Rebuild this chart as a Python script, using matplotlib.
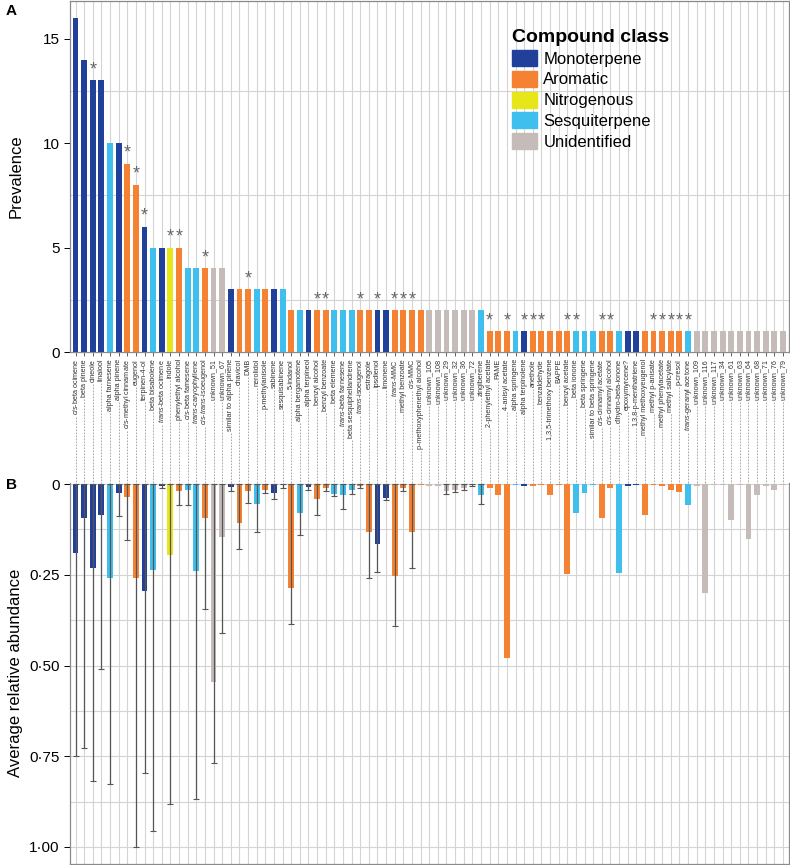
import matplotlib.pyplot as plt
from matplotlib.patches import Patch
from matplotlib.lines import Line2D
import numpy as np

plt.rcParams["font.family"] = ["Liberation Sans", "DejaVu Sans"]
plt.rcParams["mathtext.fontset"] = "custom"
plt.rcParams["mathtext.it"] = "Liberation Sans:italic"
plt.rcParams["mathtext.rm"] = "Liberation Sans"

compounds = [
    "cis-beta ocimene", "beta pinene", "cineole", "linalool", "alpha farnesene",
    "alpha pinene", "cis-methyl cinnamate", "eugenol", "terpinen-4-ol", "beta bisabolene",
    "trans-beta ocimene", "indole", "phenylethyl alcohol", "cis-beta farnesene", "trans-caryophyllene",
    "cis-trans-isoeugenol", "unknown_51", "unknown_67", "similar to alpha pinene", "chavicol",
    "DMB", "nerolidol", "p-methylanisole", "sabinene", "sesquisabinene",
    "5-indanol", "alpha bergamotene", "alpha terpineol", "benzyl alcohol", "benzyl benzoate",
    "beta elemene", "trans-beta farnesene", "beta sesquiphellandrene", "trans-isoeugenol", "estragole",
    "ipsdienol", "limonene", "trans-MMC", "methyl benzoate", "cis-MMC",
    "p-methoxyphenethyl alcohol", "unknown_105", "unknown_108", "unknown_29", "unknown_32",
    "unknown_36", "unknown_72", "zingiberene", "2-phenylethyl acetate", "PAME",
    "4-anisyl acetate", "alpha springene", "alpha terpinolene", "anethole", "benzaldehyde",
    "1,3,5-trimethoxy benzene", "BAPPE", "benzyl acetate", "beta ionone", "beta springene",
    "similar to beta springene", "cis-cinnamyl acetate", "cis-cinnamyl alcohol", "dihydro-beta-ionone", "epoxymyrcene?",
    "1,3,8-p-menthatriene", "methyl methoxyeugenol", "methyl p-anisate", "methyl phenylacetate", "methyl salicylate",
    "p-cresol", "trans-geranyl acetone", "unknown_109", "unknown_116", "unknown_117",
    "unknown_34", "unknown_61", "unknown_63", "unknown_64", "unknown_68",
    "unknown_71", "unknown_76", "unknown_79",
]

# M monoterpene, A aromatic, N nitrogenous, S sesquiterpene, U unidentified
compound_class = (
    "MMMMSMAAMS"
    "MNASSAUUMA"
    "ASAMSASMAA"
    "SSSAAMMAAA"
    "AUUUUUUSAA"
    "ASMAAAAASS"
    "SAASMMAAAA"
    "ASUUUUUUUU"
    "UUU"
)

prevalence = [16, 14, 13, 13, 10, 10, 9, 8, 6, 5, 5, 5, 5, 4, 4, 4, 4, 4,
              3, 3, 3, 3, 3, 3, 3] + [2] * 23 + [1] * 35

# compounds marked with an asterisk (1-based position)
starred = [3, 7, 8, 9, 12, 13, 16, 21, 29, 30, 34, 36, 38, 39, 40, 49, 51, 53,
           54, 55, 58, 59, 62, 63, 68, 69, 70, 71, 72]

abundance = [
    0.19, 0.094, 0.23, 0.085, 0.258, 0.025, 0.035, 0.258, 0.295, 0.237,
    0.005, 0.196, 0.02, 0.015, 0.24, 0.094, 0.545, 0.145, 0.008, 0.107,
    0.02, 0.055, 0.015, 0.025, 0.003, 0.287, 0.079, 0.008, 0.041, 0.012,
    0.028, 0.031, 0.015, 0.005, 0.131, 0.165, 0.038, 0.253, 0.01, 0.133,
    0.002, 0.004, 0.004, 0.019, 0.015, 0.01, 0.003, 0.029, 0.011, 0.031,
    0.48, 0.002, 0.004, 0.004, 0.003, 0.031, 0.003, 0.248, 0.08, 0.025,
    0.002, 0.094, 0.01, 0.246, 0.004, 0.002, 0.085, 0.002, 0.006, 0.015,
    0.022, 0.058, 0.006, 0.3, 0.002, 0.002, 0.099, 0.002, 0.151, 0.029,
    0.005, 0.015, 0.002,
]

# standard deviation (upper whisker = mean + sd), 0 where no bar shown
abundance_sd = [
    0.559, 0.634, 0.587, 0.425, 0.568, 0.063, 0.119, 0.741, 0.502, 0.719,
    0.007, 0.686, 0.038, 0.043, 0.627, 0.251, 0.223, 0.265, 0.012, 0.072,
    0.032, 0.076, 0.01, 0.017, 0.007, 0.099, 0.061, 0.007, 0.044, 0.008,
    0.004, 0.037, 0.013, 0.005, 0.127, 0.078, 0.007, 0.137, 0.01, 0.097,
    0, 0, 0, 0.008, 0.007, 0.005, 0.003, 0.026,
] + [0] * 35

class_colors = {
    "M": "#21409a",
    "A": "#f58232",
    "N": "#e6e619",
    "S": "#3fbfee",
    "U": "#c5bbb8",
}
class_names = {
    "M": "Monoterpene",
    "A": "Aromatic",
    "N": "Nitrogenous",
    "S": "Sesquiterpene",
    "U": "Unidentified",
}


def italic_prefix(name):
    for word in ("cis", "trans"):
        name = name.replace(word + "-", r"$\mathit{" + word + "}$-")
    return name


W, H = 790, 865
fig = plt.figure(figsize=(W / 100, H / 100), dpi=100)

left, right = 70 / W, 789 / W
ax_top = fig.add_axes([left, 1 - 352 / H, right - left, 351 / H])
ax_bot = fig.add_axes([left, 1 - 864 / H, right - left, (864 - 483) / H])

pos = np.arange(len(compounds))
colors = [class_colors[c] for c in compound_class]
grid_col = "#d4d4d4"
spine_col = "#8a8a8a"

# ---- A: prevalence
ax_top.bar(pos, prevalence, width=0.68, color=colors, zorder=3)
for i in starred:
    ax_top.text(i - 1, prevalence[i - 1] + 0.1, "*", ha="center", va="bottom",
                fontsize=13, color="#666666", zorder=4)

ax_top.set_xlim(-0.64, len(compounds) - 0.3)
ax_top.set_ylim(0, 16.8)
ax_top.set_yticks([0, 5, 10, 15])
ax_top.set_yticks(np.arange(0, 16.8, 2.5), minor=True)
ax_top.set_xticks(pos)
ax_top.set_xticklabels([italic_prefix(c) for c in compounds], rotation=90,
                       fontsize=5.2, color="#333333")
ax_top.tick_params(axis="x", length=3, width=0.6, pad=2, color="#444444")
ax_top.tick_params(axis="y", which="major", labelsize=11, length=4, width=0.7)
ax_top.tick_params(axis="y", which="minor", length=0)
ax_top.grid(True, axis="y", which="minor", color=grid_col, lw=0.8, zorder=0)
ax_top.grid(True, axis="x", color=grid_col, lw=0.8, zorder=0)

legend_handles = [Patch(color=class_colors[k], label=class_names[k]) for k in "MANSU"]
fig.legend(handles=legend_handles, title="Compound class", loc="upper left",
           bbox_to_anchor=(505 / W, 1 - 22 / H), frameon=False, fontsize=12,
           title_fontproperties={"weight": "bold", "size": 14},
           handlelength=1.5, handleheight=1.1, handletextpad=0.4,
           labelspacing=0.25, alignment="left", borderaxespad=0)

# ---- B: average relative abundance
for i in range(len(compounds)):
    ax_bot.bar(i, abundance[i], width=0.68, color=colors[i], zorder=3)
    if abundance_sd[i] > 0:
        ax_bot.errorbar(i, abundance[i], yerr=[[abundance[i]], [abundance_sd[i]]],
                        fmt="none", ecolor="#555555", elinewidth=0.9, capsize=2,
                        capthick=0.8, zorder=4)

ax_bot.set_xlim(ax_top.get_xlim())
ax_bot.set_ylim(1.047, -0.003)
ax_bot.set_xticks(pos)
ax_bot.tick_params(axis="x", length=0, labelbottom=False)
ax_bot.set_yticks([0, 0.25, 0.5, 0.75, 1.0])
ax_bot.set_yticklabels(["0", "0·25", "0·50", "0·75", "1·00"])
ax_bot.set_yticks(np.arange(0.125, 1.0, 0.25), minor=True)
ax_bot.tick_params(axis="y", which="major", labelsize=11, length=4, width=0.7)
ax_bot.tick_params(axis="y", which="minor", length=0)
ax_bot.grid(True, axis="y", which="both", color=grid_col, lw=0.8, zorder=0)
ax_bot.grid(True, axis="x", color=grid_col, lw=0.8, zorder=0)

for ax in (ax_top, ax_bot):
    for s in ax.spines.values():
        s.set_color(spine_col)
        s.set_linewidth(0.9)
ax_bot.spines["top"].set_visible(False)

fig.text(6 / W, 1 - 4 / H, "A", fontsize=11, weight="bold", va="top")
fig.text(6 / W, 1 - 478 / H, "B", fontsize=11, weight="bold", va="top")
fig.text(16 / W, 1 - 176 / H, "Prevalence", rotation=90, fontsize=12,
         ha="center", va="center")
fig.text(16 / W, 1 - 673 / H, "Average relative abundance", rotation=90,
         fontsize=12, ha="center", va="center")

# dashed leaders from each label down to panel B
fig.canvas.draw()
renderer = fig.canvas.get_renderer()
to_fig = fig.transFigure.inverted()
y_end = ax_bot.get_position().y1
for i, lab in enumerate(ax_top.get_xticklabels()):
    bb = lab.get_window_extent(renderer)
    x_disp = ax_top.transData.transform((i, 0))[0]
    x_f, y_f = to_fig.transform((x_disp, bb.y0 - 2))
    if y_f > y_end:
        fig.add_artist(Line2D([x_f, x_f], [y_f, y_end], color="#9a9a9a", lw=0.6,
                              dashes=(2, 1.6)))

fig.savefig("out.png", dpi=100)
